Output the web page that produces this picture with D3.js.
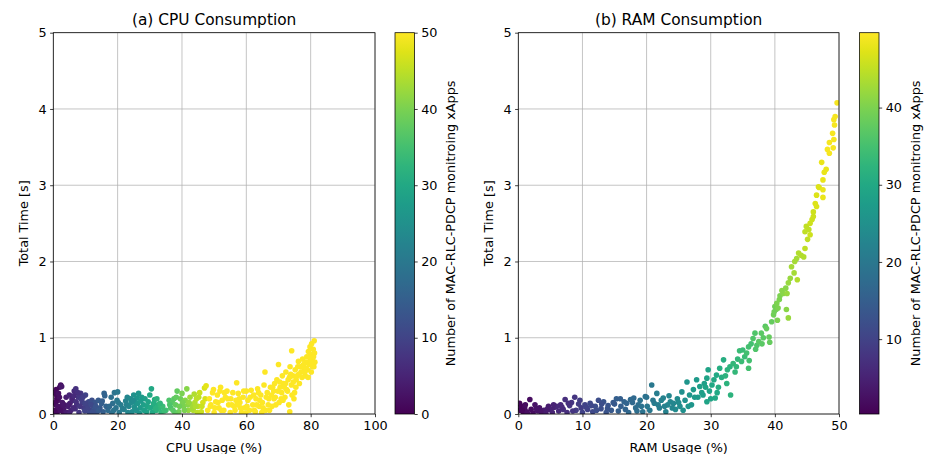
<!DOCTYPE html>
<html>
<head>
<meta charset="utf-8">
<script src="https://cdn.jsdelivr.net/npm/d3@7"></script>
<style>
  body { margin: 0; background: #fff; }
  text { font-family: "DejaVu Sans", sans-serif; fill: #000; }
</style>
</head>
<body>
<script>
// ---- CPU panel data (usage %, total time s, number of xApps) ----
const cpuUsage = [
  0.5, 0.8, 1, 1.2, 1.5, 2, 2.3, 2.6, 1.8, 2.5, 3, 0.3, 2.8, 1.1, 3.2,
  4, 4.5, 5, 5.5, 6, 6.5, 7, 7.3, 7.8, 8, 8.5, 9, 9.5, 10, 5.2, 6.8, 8.8, 4.2, 9.8,
  10.5, 11, 11.5, 12, 12.5, 13, 13.5, 14, 14.5, 15, 15.8, 16, 15.5, 12.8, 11.2,
  17, 18, 18.5, 19, 19.5, 20, 20.5, 21, 18.2, 19.8,
  22, 22.5, 23, 23.5, 24, 24.5, 25, 25.5, 26, 26.5, 27, 27.5, 28, 28.5, 23.2, 26.8, 25.8,
  29, 29.5, 30, 30.5, 31, 31.5, 32, 32.5, 33, 33.5, 34, 35, 30.8, 32.2,
  36, 36.5, 37, 37.5, 38, 38.5, 39, 39.5, 40, 40.5, 41, 41.5, 42, 37.8, 40.2,
  42.5, 43, 43.5, 44, 44.5, 45, 45.5, 46, 46.5, 47, 47.5, 44.8, 43.8,
  0.2, 0.6, 1.4, 1.9, 2.2, 3.4, 0.9, 1.6,
  4.8, 5.8, 6.2, 7.1, 7.6, 8.3, 9.2, 9.9, 6.4, 5.0,
  10.8, 11.8, 13.2, 14.2, 15.2, 12.2, 16.4,
  17.5, 18.8, 20.2, 21.5,
  22.8, 24.2, 25.2, 26.2, 27.2, 28.2, 24.8,
  29.2, 30.2, 31.2, 33.2, 34.5, 31.8,
  36.2, 37.2, 38.2, 39.2, 40.8, 41.8,
  42.2, 43.2, 44.2, 45.2, 46.2, 47.2
];
const cpuTime = [
  0.05, 0.12, 0.25, 0.02, 0.18, 0.35, 0.38, 0.36, 0.08, 0.1, 0.03, 0.28, 0.15, 0.2, 0.06,
  0.22, 0.1, 0.25, 0.05, 0.18, 0.3, 0.33, 0.12, 0.22, 0.02, 0.27, 0.15, 0.08, 0.25, 0.14, 0.07, 0.19, 0.02, 0.04,
  0.12, 0.16, 0.05, 0.18, 0.1, 0.15, 0.02, 0.18, 0.08, 0.14, 0.27, 0.24, 0.03, 0.06, 0.02,
  0.05, 0.22, 0.14, 0.28, 0.08, 0.29, 0.02, 0.12, 0.01, 0.18,
  0.06, 0.17, 0.22, 0.1, 0.2, 0.03, 0.25, 0.15, 0.21, 0.27, 0.08, 0.22, 0.12, 0.2, 0.02, 0.01, 0.05,
  0.03, 0.16, 0.25, 0.33, 0.1, 0.19, 0.05, 0.12, 0.08, 0.02, 0.1, 0.05, 0.02, 0.2,
  0.18, 0.08, 0.15, 0.2, 0.12, 0.3, 0.03, 0.2, 0.27, 0.1, 0.18, 0.33, 0.05, 0.02, 0.15,
  0.22, 0.12, 0.05, 0.15, 0.2, 0.1, 0.28, 0.03, 0.15, 0.34, 0.37, 0.02, 0.26,
  0.0, 0.15, 0.1, 0.22, 0.05, 0.12, 0.32, 0.27,
  0.12, 0.2, 0.08, 0.16, 0.28, 0.1, 0.22, 0.14, 0.24, 0.0,
  0.08, 0.12, 0.1, 0.05, 0.17, 0.03, 0.1,
  0.1, 0.05, 0.15, 0.07,
  0.12, 0.15, 0.09, 0.14, 0.17, 0.05, 0.18,
  0.1, 0.08, 0.14, 0.14, 0.04, 0.07,
  0.12, 0.05, 0.22, 0.1, 0.05, 0.12,
  0.15, 0.08, 0.1, 0.22, 0.1, 0.2
];
const cpuXapps = [
  1, 1, 1, 1, 2, 2, 2, 3, 2, 3, 3, 1, 3, 1, 3,
  4, 4, 5, 5, 6, 6, 7, 7, 8, 8, 8, 9, 9, 10, 5, 7, 9, 4, 10,
  10, 11, 11, 12, 12, 13, 13, 14, 14, 15, 16, 16, 15, 13, 11,
  17, 18, 18, 19, 19, 20, 20, 21, 18, 20,
  22, 22, 23, 23, 24, 24, 25, 25, 26, 26, 27, 27, 28, 28, 23, 26, 25,
  29, 29, 30, 30, 31, 31, 32, 32, 33, 33, 34, 35, 30, 32,
  36, 36, 37, 37, 38, 38, 39, 39, 40, 40, 41, 41, 42, 38, 40,
  43, 43, 44, 44, 45, 45, 46, 46, 47, 47, 48, 45, 44,
  1, 1, 2, 2, 2, 3, 1, 2,
  4, 5, 6, 7, 7, 8, 9, 10, 6, 5,
  10, 11, 13, 14, 15, 12, 16,
  17, 19, 20, 21,
  22, 24, 25, 26, 27, 28, 24,
  29, 30, 31, 33, 34, 32,
  36, 37, 38, 39, 40, 41,
  42, 43, 44, 45, 46, 47
];
// points at the top of the colour range (50 xApps)
const cpuFullXapps = 50;
const cpuFullUsage = [
  48, 48.5, 49, 49.5, 50, 50.5, 51, 51.5, 52, 52.5, 53, 53.5, 54, 54.5, 55, 55.2, 49.8, 51.8,
  55.8, 56.2, 56.5, 57, 57.5, 58, 58.5, 59, 59.5, 60, 60.5, 61, 61.5, 62, 62.3, 57.8, 59.8,
  62.8, 63, 63.5, 64, 64.5, 65, 65.5, 65.8, 66, 66.5, 67, 67.5, 68, 68.5, 69, 69.5, 70, 70.2, 68.8, 64.8,
  70.5, 71, 71.2, 71.5, 72, 72.3, 72.5, 73, 73.2, 73.5, 73.6, 74, 74.1, 74.5, 75, 75.2, 75.5, 76, 76.2, 76.5, 74.8,
  77, 77.3, 77.5, 78, 78.3, 78.5, 78.8, 79, 79.3, 79.5, 79.8, 80, 80.2, 80.5, 80.8, 81, 81.1, 81.3, 80.3, 79.2,
  48.8, 50.2, 51.2, 52.2, 53.2, 54.2, 55.5, 56.8, 58.2, 59.2, 60.2, 61.2, 62.5, 63.2, 63.8,
  64.2, 65.2, 66.2, 67.2, 67.8, 68.2, 69.2, 69.8, 70.8, 71.8, 72.8, 73.8, 74.2, 75.8, 76.8,
  77.8, 78.2, 79.8, 80.6, 81.2, 72.2, 73.4, 75.4, 76.3, 77.2, 78.6, 79.6, 66.8, 68.6, 70.4,
  71.4, 74.6, 80.1, 80.9, 57.2
];
const cpuFullTime = [
  0.05, 0.2, 0.12, 0.28, 0.02, 0.16, 0.25, 0.08, 0.35, 0.18, 0.05, 0.22, 0.3, 0.12, 0.02, 0.2, 0.32, 0.3,
  0.28, 0.1, 0.05, 0.41, 0.27, 0.15, 0.02, 0.22, 0.08, 0.3, 0.18, 0.05, 0.31, 0.12, 0.25, 0.2, 0.01,
  0.03, 0.2, 0.33, 0.1, 0.25, 0.15, 0.38, 0.55, 0.05, 0.28, 0.2, 0.35, 0.1, 0.3, 0.22, 0.45, 0.65, 0.15, 0.4, 0.02,
  0.35, 0.28, 0.5, 0.4, 0.22, 0.55, 0.32, 0.45, 0.12, 0.03, 0.62, 0.38, 0.83, 0.5, 0.28, 0.58, 0.45, 0.62, 0.69, 0.4, 0.2,
  0.55, 0.48, 0.72, 0.6, 0.5, 0.68, 0.75, 0.58, 0.82, 0.65, 0.88, 0.78, 0.55, 0.72, 0.85, 0.62, 0.96, 0.68, 0.92, 0.48,
  0.1, 0.08, 0.15, 0.05, 0.28, 0.2, 0.12, 0.18, 0.08, 0.3, 0.1, 0.22, 0.05, 0.12, 0.28,
  0.18, 0.08, 0.22, 0.05, 0.25, 0.35, 0.12, 0.3, 0.2, 0.35, 0.3, 0.52, 0.25, 0.5, 0.62,
  0.65, 0.55, 0.7, 0.62, 0.8, 0.4, 0.48, 0.35, 0.52, 0.62, 0.6, 0.75, 0.12, 0.2, 0.42,
  0.18, 0.42, 0.68, 0.75, 0.12
];

// ---- RAM panel data ----
const ramUsage = [
  0.2, 0.3, 0.5, 0.8, 1.0, 1.3, 1.8, 2.0, 2.3, 2.6, 3.0, 3.3, 3.7, 4.0, 4.3, 4.7, 5.0, 5.3,
  5.6, 6.0, 6.3, 6.6, 7.0, 7.3, 7.6, 8.0, 8.3, 8.8, 9.0, 9.4, 9.8, 10.0,
  10.4, 10.8, 11.2, 11.6, 12.0, 12.5, 12.9, 13.3, 13.7, 14.0, 14.5, 15.0, 15.3,
  15.6, 16.0, 16.5, 16.9, 17.2, 17.5, 18.0, 18.3, 18.7, 19.0, 19.4, 19.8, 20.1,
  20.5, 20.8, 21.2, 21.6, 22.0, 22.3, 22.6, 23.0, 23.3, 23.7, 24.2, 24.5, 24.8, 25.2,
  25.5, 25.7, 26.0, 26.3, 26.7, 27.0, 27.3, 27.8, 28.0, 28.3, 28.6, 29.0, 29.4, 29.4, 29.6, 29.8, 30.0,
  30.2, 30.5, 30.7, 30.9, 31.2, 31.4, 31.7, 32.0, 32.3, 32.6, 33.0, 33.1, 33.5, 33.8, 34.2, 34.5, 34.8, 35.0,
  35.3, 35.6, 35.9, 35.9, 36.3, 36.6, 36.9, 37.2, 37.5, 37.9, 38.2, 38.5, 38.7, 39.1, 39.2, 39.5, 39.8, 39.9,
  40.0, 40.2, 40.3, 40.4, 40.5, 40.7, 40.8, 41.1, 41.3, 41.7, 41.8, 41.9, 42.1, 42.1, 42.4, 42.6, 43.0,
  43.1, 43.4, 43.5, 43.7, 44.1, 44.5, 44.7, 44.7, 44.9, 45.1, 45.3, 45.5, 45.5, 45.8, 46.0, 46.0,
  46.3, 46.5, 46.5, 46.8, 46.9, 47.3, 47.5, 47.5, 47.5, 47.7, 48.0, 48.2, 48.5, 48.5, 49.0, 49.1, 49.2, 49.2, 49.3, 49.4, 49.7,
  0.1, 0.6, 1.1, 1.5, 2.8, 3.5, 4.5, 5.5, 6.8, 7.8, 8.5, 9.6, 10.6, 11.4, 12.2, 13.0, 13.9, 14.8, 15.9, 16.7,
  17.8, 18.5, 19.2, 20.0, 21.0, 21.8, 22.8, 23.5, 24.0, 25.0, 26.5, 27.5, 28.8, 29.2, 31.0, 32.5, 34.0, 36.0, 37.0, 38.0
];
const ramTime = [
  0.14, 0.05, 0.1, 0.02, 0.08, 0.03, 0.19, 0.06, 0.01, 0.12, 0.04, 0.08, 0.02, 0.05, 0.01, 0.1, 0.06, 0.02,
  0.09, 0.1, 0.04, 0.12, 0.06, 0.19, 0.02, 0.11, 0.15, 0.22, 0.05, 0.13, 0.08, 0.02,
  0.12, 0.06, 0.14, 0.03, 0.1, 0.18, 0.07, 0.16, 0.02, 0.11, 0.05, 0.13, 0.2,
  0.04, 0.1, 0.16, 0.14, 0.02, 0.19, 0.21, 0.08, 0.12, 0.18, 0.03, 0.23, 0.1,
  0.05, 0.38, 0.14, 0.27, 0.08, 0.18, 0.21, 0.03, 0.12, 0.16, 0.14, 0.06, 0.2, 0.1,
  0.29, 0.05, 0.18, 0.42, 0.25, 0.12, 0.32, 0.45, 0.22, 0.36, 0.28, 0.4, 0.16, 0.47, 0.58, 0.3, 0.2,
  0.38, 0.45, 0.21, 0.51, 0.35, 0.6, 0.48, 0.71, 0.5, 0.58, 0.62, 0.25, 0.66, 0.55, 0.72, 0.83, 0.69, 0.84,
  0.75, 0.8, 0.88, 0.6, 0.92, 0.99, 1.06, 0.9, 0.95, 1.06, 1.0, 1.15, 1.12, 1.01, 0.94, 1.21, 1.3, 1.34,
  1.41, 1.37, 1.45, 1.23, 1.39, 1.5, 1.55, 1.62, 1.58, 1.65, 1.37, 1.58, 1.72, 1.26, 1.78, 1.93, 1.85,
  2.0, 2.04, 1.76, 2.11, 2.08, 2.06, 2.17, 2.39, 2.46, 2.29, 2.42, 2.35, 2.5, 2.55, 2.59, 2.65,
  2.76, 2.72, 2.87, 2.98, 2.97, 3.3, 2.94, 2.84, 3.07, 3.17, 3.21, 3.47, 3.42, 3.56, 3.68, 3.49, 3.6, 3.86, 3.79, 3.9, 4.08,
  0.08, 0.05, 0.12, 0.0, 0.07, 0.03, 0.06, 0.12, 0.09, 0.14, 0.04, 0.18, 0.09, 0.11, 0.05, 0.13, 0.07, 0.15, 0.2, 0.06,
  0.15, 0.04, 0.1, 0.22, 0.18, 0.12, 0.1, 0.24, 0.08, 0.15, 0.1, 0.22, 0.25, 0.35, 0.28, 0.4, 0.62, 0.7, 0.85, 0.92
];
const ramXapps = [
  1, 1, 1, 1, 2, 2, 2, 2, 2, 3, 3, 3, 3, 4, 4, 4, 5, 5,
  5, 6, 6, 6, 7, 7, 7, 8, 8, 8, 9, 9, 9, 10,
  10, 10, 11, 11, 12, 12, 12, 13, 13, 13, 14, 14, 15,
  15, 15, 16, 16, 17, 17, 17, 18, 18, 19, 19, 19, 20,
  20, 20, 21, 21, 21, 22, 22, 22, 23, 23, 23, 24, 24, 24,
  25, 25, 25, 26, 26, 26, 27, 27, 27, 28, 28, 28, 29, 29, 29, 29, 29,
  30, 30, 30, 30, 31, 31, 31, 31, 32, 32, 32, 32, 33, 33, 33, 34, 34, 34,
  34, 35, 35, 35, 35, 36, 36, 36, 37, 37, 37, 37, 38, 38, 38, 38, 39, 39,
  39, 39, 40, 40, 40, 40, 40, 41, 41, 41, 41, 42, 42, 42, 42, 43, 43,
  43, 43, 44, 44, 44, 44, 45, 45, 45, 45, 45, 46, 46, 46, 46, 46,
  47, 47, 47, 47, 47, 48, 48, 48, 48, 48, 48, 49, 49, 49, 49, 49, 49, 49, 49, 49, 49,
  1, 1, 2, 2, 3, 3, 4, 5, 6, 7, 8, 9, 10, 11, 12, 12, 13, 14, 15, 16,
  17, 18, 19, 19, 20, 21, 22, 23, 23, 24, 26, 27, 28, 29, 30, 32, 33, 35, 36, 37
];

const yTicks = [0, 1, 2, 3, 4, 5];
const cpuTicks = [0, 20, 40, 60, 80, 100];
const ramTicks = [0, 10, 20, 30, 40, 50];
const cpuBarTicks = [0, 10, 20, 30, 40, 50];
const ramBarTicks = [10, 20, 30, 40];
const cbarLabel = "Number of MAC-RLC-PDCP monitroing xApps";

const width = 925, height = 454;
const plotTop = 32.7, plotBottom = 414;

const svg = d3.select("body").append("svg")
  .attr("width", width).attr("height", height);

const defs = svg.append("defs");
const grad = defs.append("linearGradient").attr("id", "viridis")
  .attr("x1", 0).attr("y1", 1).attr("x2", 0).attr("y2", 0);
d3.range(0, 1.0001, 0.05).forEach((t) => {
  grad.append("stop").attr("offset", t).attr("stop-color", d3.interpolateViridis(t));
});

function drawPanel(cfg) {
  const x = d3.scaleLinear().domain(cfg.xDomain).range([cfg.left, cfg.right]);
  const y = d3.scaleLinear().domain([0, 5]).range([plotBottom, plotTop]);
  const color = d3.scaleSequential(d3.interpolateViridis).domain(cfg.cDomain).clamp(true);
  const g = svg.append("g");

  defs.append("clipPath").attr("id", cfg.id + "-clip")
    .append("rect")
    .attr("x", cfg.left).attr("y", plotTop)
    .attr("width", cfg.right - cfg.left).attr("height", plotBottom - plotTop);

  // grid
  g.append("g").selectAll("line").data(cfg.xTicks).enter().append("line")
    .attr("x1", (d) => x(d)).attr("x2", (d) => x(d))
    .attr("y1", plotTop).attr("y2", plotBottom)
    .attr("stroke", "#b0b0b0").attr("stroke-width", 0.75);
  g.append("g").selectAll("line").data(yTicks).enter().append("line")
    .attr("x1", cfg.left).attr("x2", cfg.right)
    .attr("y1", (d) => y(d)).attr("y2", (d) => y(d))
    .attr("stroke", "#b0b0b0").attr("stroke-width", 0.75);

  // points
  g.append("g").attr("clip-path", "url(#" + cfg.id + "-clip)")
    .selectAll("circle").data(cfg.points).enter().append("circle")
    .attr("cx", (d) => x(d.u)).attr("cy", (d) => y(d.t))
    .attr("r", 2.8)
    .attr("fill", (d) => color(d.n));

  // axes
  const xAxis = g.append("g").attr("transform", `translate(0,${plotBottom})`)
    .call(d3.axisBottom(x).tickValues(cfg.xTicks).tickFormat(d3.format("d"))
      .tickSize(3.2).tickPadding(3.5));
  const yAxis = g.append("g").attr("transform", `translate(${cfg.left},0)`)
    .call(d3.axisLeft(y).tickValues(yTicks).tickFormat(d3.format("d"))
      .tickSize(3.2).tickPadding(3.5));
  [xAxis, yAxis].forEach((a) => {
    a.select(".domain").remove();
    a.selectAll("text").attr("font-size", 12.8).attr("font-family", "DejaVu Sans");
    a.selectAll("line").attr("stroke-width", 0.75);
  });

  // frame
  g.append("rect")
    .attr("x", cfg.left).attr("y", plotTop)
    .attr("width", cfg.right - cfg.left).attr("height", plotBottom - plotTop)
    .attr("fill", "none").attr("stroke", "#000").attr("stroke-width", 0.75);

  // labels
  g.append("text").attr("x", (cfg.left + cfg.right) / 2).attr("y", 24.5)
    .attr("text-anchor", "middle").attr("font-size", 15.4).text(cfg.title);
  g.append("text").attr("x", (cfg.left + cfg.right) / 2).attr("y", 452)
    .attr("text-anchor", "middle").attr("font-size", 12.8).text(cfg.xLabel);
  g.append("text")
    .attr("transform", `translate(${cfg.left - 25},${(plotTop + plotBottom) / 2}) rotate(-90)`)
    .attr("text-anchor", "middle").attr("font-size", 12.8).text("Total Time [s]");

  // colourbar
  const cb = svg.append("g");
  const cy = d3.scaleLinear().domain(cfg.cDomain).range([plotBottom, plotTop]);
  cb.append("rect")
    .attr("x", cfg.cbX).attr("y", plotTop)
    .attr("width", 19.5).attr("height", plotBottom - plotTop)
    .attr("fill", "url(#viridis)").attr("stroke", "#000").attr("stroke-width", 0.75);
  cb.append("g").attr("transform", `translate(${cfg.cbX + 19.5},0)`)
    .call(d3.axisRight(cy).tickValues(cfg.cTicks).tickSize(3.2).tickPadding(3.5))
    .call((a) => {
      a.select(".domain").remove();
      a.selectAll("text").attr("font-size", 12.8).attr("font-family", "DejaVu Sans");
      a.selectAll("line").attr("stroke-width", 0.75);
    });
  cb.append("text")
    .attr("transform", `translate(${cfg.cbX + 60},${(plotTop + plotBottom) / 2}) rotate(-90)`)
    .attr("text-anchor", "middle").attr("font-size", 12.8).text(cbarLabel);
}

const cpuPoints = cpuUsage.map((u, i) => ({ u: u, t: cpuTime[i], n: cpuXapps[i] }))
  .concat(cpuFullUsage.map((u, i) => ({ u: u, t: cpuFullTime[i], n: cpuFullXapps })));
const ramPoints = ramUsage.map((u, i) => ({ u: u, t: ramTime[i], n: ramXapps[i] }));

drawPanel({
  id: "cpu", left: 53.3, right: 375, xDomain: [0, 100], xTicks: cpuTicks,
  cDomain: [0, 50], cTicks: cpuBarTicks, cbX: 395, points: cpuPoints,
  title: "(a) CPU Consumption", xLabel: "CPU Usage (%)"
});
drawPanel({
  id: "ram", left: 518.3, right: 839, xDomain: [0, 50], xTicks: ramTicks,
  cDomain: [0.3, 49.7], cTicks: ramBarTicks, cbX: 859.5, points: ramPoints,
  title: "(b) RAM Consumption", xLabel: "RAM Usage (%)"
});
</script>
</body>
</html>
